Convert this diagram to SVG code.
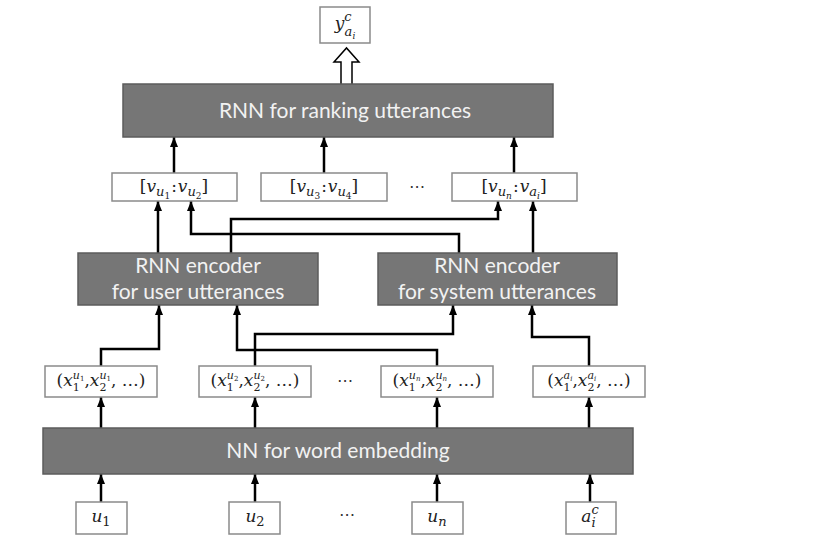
<svg xmlns="http://www.w3.org/2000/svg" width="838" height="546" viewBox="0 0 838 546">
<defs>
<style>
.dark{fill:#767676;stroke:#5c5c5c;stroke-width:1.5}
.lab{fill:#ffffff;stroke:#8a8a8a;stroke-width:1.5}
.dt{font-family:Lato,"Open Sans","Liberation Sans",sans-serif;font-size:21px;fill:#f2f2f2;text-anchor:middle}
.m{font-family:"DejaVu Serif","Liberation Serif",serif;font-size:17px;fill:#222;text-anchor:middle}
.i{font-style:italic}
.c{fill:none;stroke:#000;stroke-width:2.5;marker-end:url(#ah)}
.dots{font-family:"DejaVu Sans",sans-serif;font-size:16px;fill:#333;text-anchor:middle}
</style>
<marker id="ah" markerUnits="userSpaceOnUse" markerWidth="10" markerHeight="10" viewBox="0 0 10 10" refX="10" refY="5" orient="auto">
<path d="M0,1 L10,5 L0,9 Z" fill="#000"/>
</marker>
</defs>
<rect width="838" height="546" fill="#fff"/>

<g id="connectors">
<path d="M341,84 L341,62 L334,62 L346.5,48 L359,62 L352,62 L352,84" fill="#fff" stroke="#000" stroke-width="1.5"/>
<line class="c" x1="174" y1="173" x2="174" y2="137"/>
<line class="c" x1="324" y1="173" x2="324" y2="137"/>
<line class="c" x1="514" y1="173" x2="514" y2="137"/>
<line class="c" x1="158" y1="253" x2="158" y2="201"/>
<path class="c" d="M459,253 V234 H191 V201"/>
<path class="c" d="M231,253 V219 H498 V201"/>
<line class="c" x1="533" y1="253" x2="533" y2="201"/>
<path class="c" d="M101,366 V349 H159 V305"/>
<path class="c" d="M437,366 V350 H237 V305"/>
<path class="c" d="M255,366 V334 H453 V305"/>
<path class="c" d="M589,366 V337 H532 V305"/>
<line class="c" x1="101" y1="428" x2="101" y2="397"/>
<line class="c" x1="255" y1="428" x2="255" y2="397"/>
<line class="c" x1="437" y1="428" x2="437" y2="397"/>
<line class="c" x1="589" y1="428" x2="589" y2="397"/>
<line class="c" x1="101" y1="502" x2="101" y2="474"/>
<line class="c" x1="255" y1="502" x2="255" y2="474"/>
<line class="c" x1="437" y1="502" x2="437" y2="474"/>
<line class="c" x1="590" y1="502" x2="590" y2="474"/>
</g>

<g id="out">
<rect class="lab" x="320" y="7" width="50" height="36"/>
<text class="m" x="345" y="29" font-size="19"><tspan class="i">y</tspan><tspan class="i" font-size="13" dy="-8">c</tspan><tspan class="i" font-size="13" dx="-7" dy="15">a</tspan><tspan class="i" font-size="9" dy="3">i</tspan></text>
</g>

<g id="rank">
<rect class="dark" x="123" y="84" width="430" height="53"/>
<text class="dt" x="345" y="118">RNN for ranking utterances</text>
</g>

<g id="v12">
<rect class="lab" x="112" y="173" width="125" height="28"/>
<text class="m" x="174" y="192" font-size="19">[<tspan class="i">v</tspan><tspan class="i" font-size="13" dy="4">u</tspan><tspan font-size="9" dy="3">1</tspan><tspan dy="-7" dx="1">:</tspan><tspan class="i" dx="1">v</tspan><tspan class="i" font-size="13" dy="4">u</tspan><tspan font-size="9" dy="3">2</tspan><tspan dy="-7">]</tspan></text>
</g>
<g id="v34">
<rect class="lab" x="261" y="173" width="126" height="28"/>
<text class="m" x="324" y="192" font-size="19">[<tspan class="i">v</tspan><tspan class="i" font-size="13" dy="4">u</tspan><tspan font-size="9" dy="3">3</tspan><tspan dy="-7" dx="1">:</tspan><tspan class="i" dx="1">v</tspan><tspan class="i" font-size="13" dy="4">u</tspan><tspan font-size="9" dy="3">4</tspan><tspan dy="-7">]</tspan></text>
</g>
<text class="dots" x="417" y="192">⋯</text>
<g id="vna">
<rect class="lab" x="452" y="173" width="125" height="28"/>
<text class="m" x="514" y="192" font-size="19">[<tspan class="i">v</tspan><tspan class="i" font-size="13" dy="4">u</tspan><tspan class="i" font-size="9" dy="3">n</tspan><tspan dy="-7" dx="1">:</tspan><tspan class="i" dx="1">v</tspan><tspan class="i" font-size="13" dy="4">a</tspan><tspan class="i" font-size="9" dy="3">i</tspan><tspan dy="-7">]</tspan></text>
</g>

<g id="enc_user">
<rect class="dark" x="78" y="253" width="240" height="52"/>
<text class="dt" x="198" y="273">RNN encoder</text>
<text class="dt" x="198" y="299">for user utterances</text>
</g>
<g id="enc_sys">
<rect class="dark" x="378" y="253" width="239" height="52"/>
<text class="dt" x="497" y="273">RNN encoder</text>
<text class="dt" x="497" y="299">for system utterances</text>
</g>

<g id="x1">
<rect class="lab" x="45" y="366" width="112" height="31"/>
<text class="m" x="101" y="386" font-size="17">(<tspan class="i">x</tspan><tspan font-size="11" dy="5">1</tspan><tspan class="i" font-size="11" dx="-7" dy="-12">u</tspan><tspan font-size="7" dy="2">1</tspan><tspan dy="5">,</tspan><tspan class="i">x</tspan><tspan font-size="11" dy="5">2</tspan><tspan class="i" font-size="11" dx="-7" dy="-12">u</tspan><tspan font-size="7" dy="2">1</tspan><tspan dy="5">, …)</tspan></text>
</g>
<g id="x2">
<rect class="lab" x="199" y="366" width="112" height="31"/>
<text class="m" x="255" y="386" font-size="17">(<tspan class="i">x</tspan><tspan font-size="11" dy="5">1</tspan><tspan class="i" font-size="11" dx="-7" dy="-12">u</tspan><tspan font-size="7" dy="2">2</tspan><tspan dy="5">,</tspan><tspan class="i">x</tspan><tspan font-size="11" dy="5">2</tspan><tspan class="i" font-size="11" dx="-7" dy="-12">u</tspan><tspan font-size="7" dy="2">2</tspan><tspan dy="5">, …)</tspan></text>
</g>
<text class="dots" x="345" y="386">⋯</text>
<g id="xn">
<rect class="lab" x="381" y="366" width="112" height="31"/>
<text class="m" x="437" y="386" font-size="17">(<tspan class="i">x</tspan><tspan font-size="11" dy="5">1</tspan><tspan class="i" font-size="11" dx="-7" dy="-12">u</tspan><tspan class="i" font-size="7" dy="2">n</tspan><tspan dy="5">,</tspan><tspan class="i">x</tspan><tspan font-size="11" dy="5">2</tspan><tspan class="i" font-size="11" dx="-7" dy="-12">u</tspan><tspan class="i" font-size="7" dy="2">n</tspan><tspan dy="5">, …)</tspan></text>
</g>
<g id="xa">
<rect class="lab" x="533" y="366" width="112" height="31"/>
<text class="m" x="589" y="386" font-size="17">(<tspan class="i">x</tspan><tspan font-size="11" dy="5">1</tspan><tspan class="i" font-size="11" dx="-7" dy="-12">a</tspan><tspan class="i" font-size="7" dy="2">i</tspan><tspan dy="5">,</tspan><tspan class="i">x</tspan><tspan font-size="11" dy="5">2</tspan><tspan class="i" font-size="11" dx="-7" dy="-12">a</tspan><tspan class="i" font-size="7" dy="2">i</tspan><tspan dy="5">, …)</tspan></text>
</g>

<g id="emb">
<rect class="dark" x="43" y="428" width="590" height="46"/>
<text class="dt" x="338" y="458">NN for word embedding</text>
</g>

<g id="u1">
<rect class="lab" x="76" y="502" width="51" height="32"/>
<text class="m" x="101" y="522" font-size="19"><tspan class="i">u</tspan><tspan font-size="13" dy="4">1</tspan></text>
</g>
<g id="u2">
<rect class="lab" x="229" y="502" width="51" height="32"/>
<text class="m" x="255" y="522" font-size="19"><tspan class="i">u</tspan><tspan font-size="13" dy="4">2</tspan></text>
</g>
<text class="dots" x="347" y="520">⋯</text>
<g id="un">
<rect class="lab" x="412" y="502" width="51" height="32"/>
<text class="m" x="437" y="522" font-size="19"><tspan class="i">u</tspan><tspan class="i" font-size="13" dy="4">n</tspan></text>
</g>
<g id="ac">
<rect class="lab" x="566" y="502" width="50" height="32"/>
<text class="m" x="590" y="522" font-size="19"><tspan class="i">a</tspan><tspan class="i" font-size="13" dy="-8">c</tspan><tspan class="i" font-size="13" dx="-7.2" dy="13">i</tspan></text>
</g>
</svg>
